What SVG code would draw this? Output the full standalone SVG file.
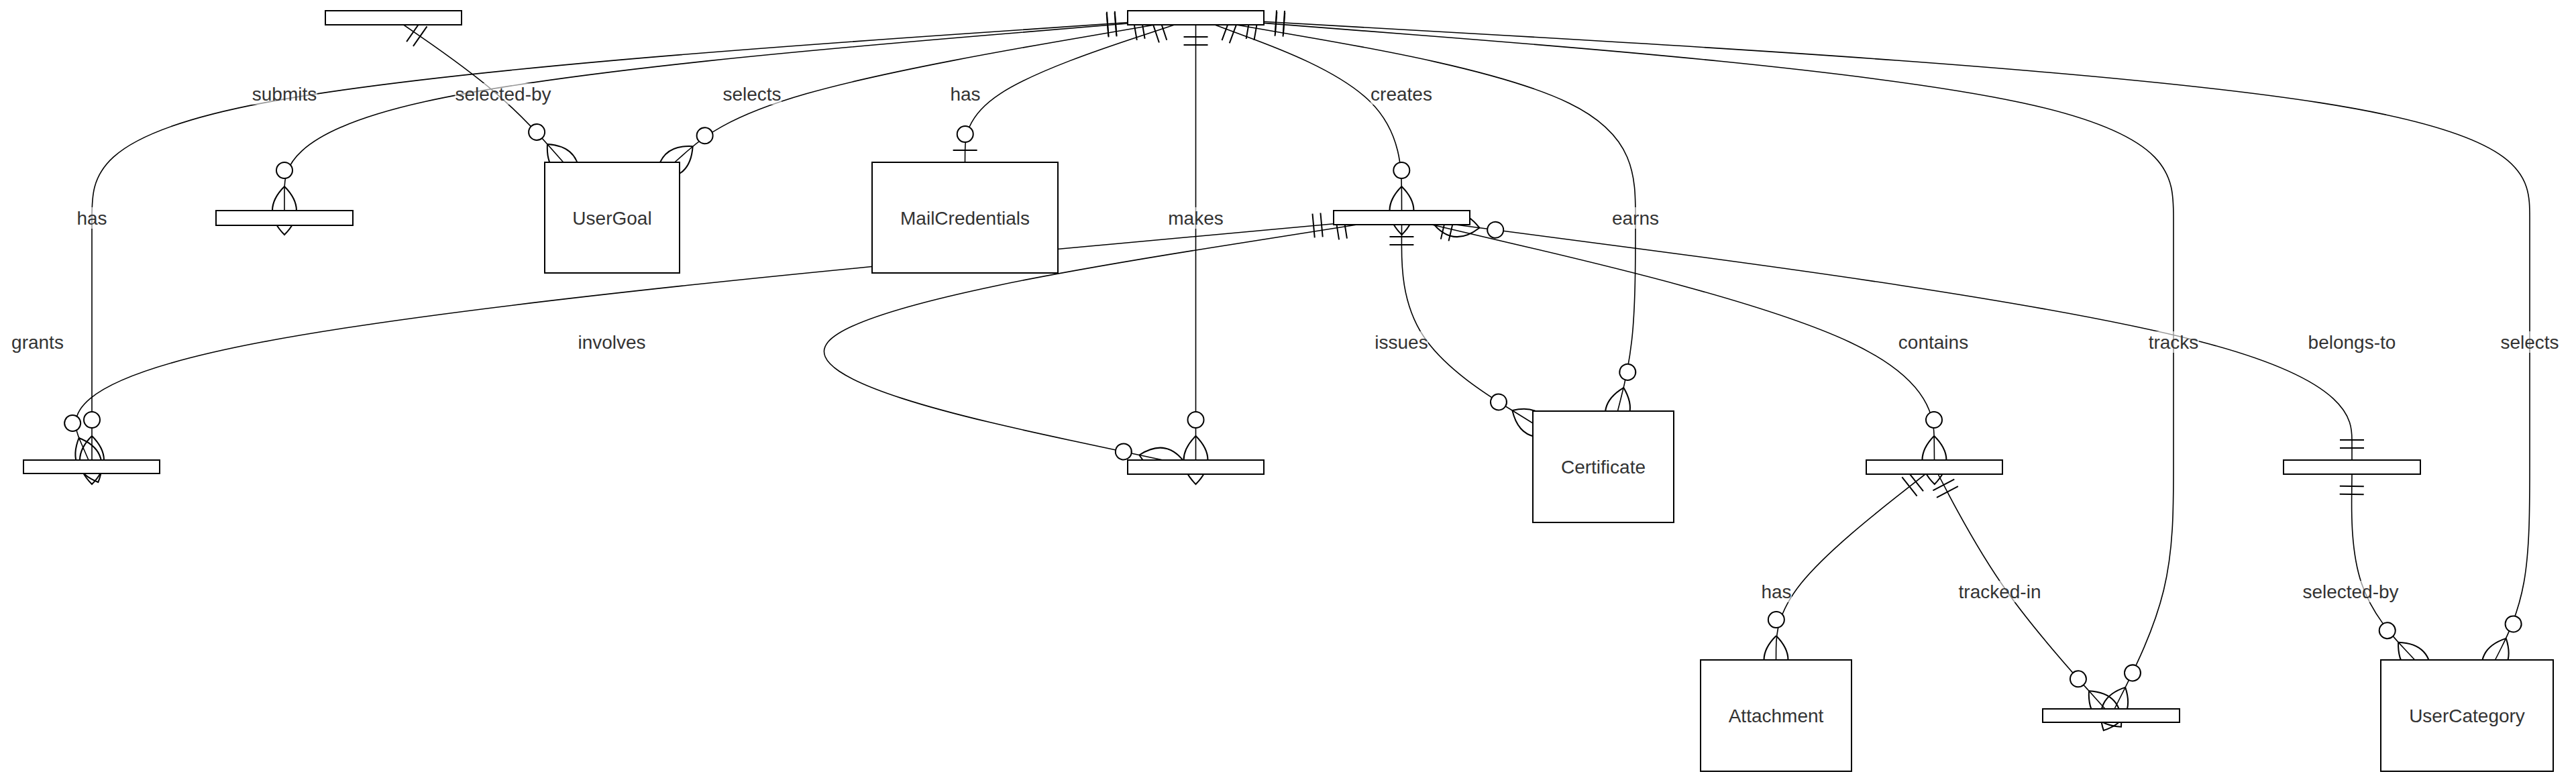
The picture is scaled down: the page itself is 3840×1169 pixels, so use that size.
<svg xmlns="http://www.w3.org/2000/svg" width="3840" height="1169" viewBox="0 0 3840 1169">
<style>
.edge{fill:none;stroke:#000;stroke-width:1.6}
.ent{fill:#fff;stroke:#000;stroke-width:2}
.name,.lbl text{font-family:"Liberation Sans",Arial,Helvetica,sans-serif;font-size:28px;fill:#333;text-anchor:middle;dominant-baseline:central}
.lbl rect{fill:#fff;opacity:0.6}
.mk{fill:none;stroke:#000;stroke-width:2}
.mkc{fill:#fff;stroke:#000;stroke-width:2}
</style>
<defs>
<marker id="oneStart" markerUnits="userSpaceOnUse" refX="0" refY="18" markerWidth="36" markerHeight="36" orient="auto" overflow="visible"><path class="mk" d="M18,0 L18,36 M30,0 L30,36"/></marker>
<marker id="oneEnd" markerUnits="userSpaceOnUse" refX="36" refY="18" markerWidth="36" markerHeight="36" orient="auto" overflow="visible"><path class="mk" d="M6,0 L6,36 M18,0 L18,36"/></marker>
<marker id="zeroOneEnd" markerUnits="userSpaceOnUse" refX="60" refY="18" markerWidth="60" markerHeight="36" orient="auto" overflow="visible"><circle class="mkc" cx="18" cy="18" r="12"/><path class="mk" d="M42,0 L42,36"/></marker>
<marker id="zeroManyStart" markerUnits="userSpaceOnUse" refX="36" refY="36" markerWidth="114" markerHeight="72" orient="auto" overflow="visible"><circle class="mkc" cx="96" cy="36" r="12"/><path class="mk" d="M0,36 Q36,0 72,36 Q36,72 0,36"/></marker>
<marker id="zeroManyEnd" markerUnits="userSpaceOnUse" refX="78" refY="36" markerWidth="114" markerHeight="72" orient="auto" overflow="visible"><circle class="mkc" cx="18" cy="36" r="12"/><path class="mk" d="M42,36 Q78,0 114,36 Q78,72 42,36"/></marker>
</defs>
<rect width="3840" height="1169" fill="#fff"/>
<g id="connectors">
<path class="edge" marker-start="url(#oneStart)" marker-end="url(#zeroManyEnd)" d="M1681,35 L1471.5,52.5 C1262,70 843,105 633.5,151.5 C424,198 424,256 424,285 L424,314"/>
<path class="edge" marker-start="url(#oneStart)" marker-end="url(#zeroManyEnd)" d="M1681,33.5 L1423.7,51.25 C1166.3,69 651.7,104.5 394.3,153.1 C137,201.7 137,263.3 137,325 C137,386.7 137,448.3 137,508.5 C137,568.7 137,627.3 137,656.7 L137,686"/>
<path class="edge" marker-start="url(#oneStart)" marker-end="url(#zeroManyEnd)" d="M1721.3,37 L1621.25,54.2 C1521.2,71.3 1321.1,105.7 1201.8,139.8 C1082.6,174 1044.1,208 1024.9,225 L1005.7,242"/>
<path class="edge" marker-start="url(#oneStart)" marker-end="url(#zeroOneEnd)" d="M1750.7,37 L1698.75,54.2 C1646.8,71.3 1542.9,105.7 1490.9,139.8 C1438.8,174 1438.7,208 1438.6,225 L1438.5,242"/>
<path class="edge" marker-start="url(#oneStart)" marker-end="url(#zeroManyEnd)" d="M601.6,37 L626.3,54.2 C651.1,71.3 700.5,105.7 740.2,139.8 C779.9,174 809.9,208 824.8,225 L839.8,242"/>
<path class="edge" marker-start="url(#oneStart)" marker-end="url(#zeroManyEnd)" d="M1782.5,37 L1782.5,686"/>
<path class="edge" marker-start="url(#oneStart)" marker-end="url(#zeroManyEnd)" d="M1810.9,37 L1857.25,54.2 C1903.6,71.3 1996.3,105.7 2042.7,151.8 C2089.2,198 2089.3,256 2089.4,285 L2089.5,314"/>
<path class="edge" marker-start="url(#oneStart)" marker-end="url(#zeroManyEnd)" d="M1843,37 L1942.2,54.2 C2041.3,71.3 2239.7,105.7 2338.8,153.7 C2438,201.7 2438,263.3 2438,325 C2438,386.7 2438,448.3 2433.6,496.3 C2429.1,544.3 2420.3,578.7 2415.8,595.8 L2411.4,613"/>
<path class="edge" marker-start="url(#oneStart)" marker-end="url(#zeroManyEnd)" d="M1884,34.4 L2110,52 C2336,69.6 2788,104.8 3014,153.2 C3240,201.7 3240,263.3 3240,325 C3240,386.7 3240,448.3 3240,510.2 C3240,572 3240,634 3240,696 C3240,758 3240,820 3225.3,880.2 C3210.7,940.3 3181.3,998.7 3166.7,1027.8 L3152,1057"/>
<path class="edge" marker-start="url(#oneStart)" marker-end="url(#zeroManyEnd)" d="M1884,32.3 L2198.5,50.25 C2513,68.2 3142,104.1 3456.5,152.9 C3771,201.7 3771,263.3 3771,325 C3771,386.7 3771,448.3 3771,510.2 C3771,572 3771,634 3771,696 C3771,758 3771,820 3762.4,868 C3753.8,916 3736.7,950 3728.1,967 L3719.5,984"/>
<path class="edge" marker-start="url(#oneStart)" marker-end="url(#zeroManyEnd)" d="M1988,333.8 L1666,363.2 C1344,392.5 700,451.3 390.7,510 C81.3,568.7 106.7,627.3 119.3,656.7 L132,686"/>
<path class="edge" marker-start="url(#oneStart)" marker-end="url(#zeroManyEnd)" d="M2022.9,335 L1837.75,364.2 C1652.6,393.3 1282.3,451.7 1234.1,510.2 C1185.8,568.7 1459.7,627.3 1596.6,656.7 L1733.5,686"/>
<path class="edge" marker-start="url(#oneStart)" marker-end="url(#zeroManyEnd)" d="M2089.5,335 L2089.4,364.2 C2089.3,393.3 2089.2,451.7 2121.75,501 C2154.3,550.3 2219.7,590.7 2252.3,610.8 L2285,631"/>
<path class="edge" marker-start="url(#oneStart)" marker-end="url(#zeroManyEnd)" d="M2134.4,335 L2259,364.2 C2383.6,393.3 2632.8,451.7 2757.7,510.2 C2882.5,568.7 2883,627.3 2883.25,656.7 L2883.5,686"/>
<path class="edge" marker-start="url(#zeroManyStart)" marker-end="url(#oneEnd)" d="M2169.7,335 L2392.4,364.2 C2615.1,393.3 3060.6,451.7 3283.3,510.2 C3506,568.7 3506,627.3 3506,656.7 L3506,686"/>
<path class="edge" marker-start="url(#oneStart)" marker-end="url(#zeroManyEnd)" d="M2870,707 L2833,736.2 C2796,765.3 2722,823.7 2684.9,869.8 C2647.8,916 2647.7,950 2647.6,967 L2647.5,984"/>
<path class="edge" marker-start="url(#oneStart)" marker-end="url(#zeroManyEnd)" d="M2889,707 L2904.3,736.2 C2919.7,765.3 2950.3,823.7 2991.8,882 C3033.3,940.3 3085.7,998.7 3111.8,1027.8 L3138,1057"/>
<path class="edge" marker-start="url(#oneStart)" marker-end="url(#zeroManyEnd)" d="M3506,707 L3505.7,736.2 C3505.3,765.3 3504.7,823.7 3520.3,869.8 C3535.9,916 3567.8,950 3583.8,967 L3599.7,984"/>
</g>
<g id="edge-labels">
<g class="lbl"><rect x="375" y="124" width="98" height="32"/><text x="424" y="140">submits</text></g>
<g class="lbl"><rect x="678" y="124" width="144" height="32"/><text x="750" y="140">selected-by</text></g>
<g class="lbl"><rect x="1077" y="124" width="88" height="32"/><text x="1121" y="140">selects</text></g>
<g class="lbl"><rect x="1416" y="124" width="46" height="32"/><text x="1439" y="140">has</text></g>
<g class="lbl"><rect x="2043" y="124" width="92" height="32"/><text x="2089" y="140">creates</text></g>
<g class="lbl"><rect x="114" y="309" width="46" height="32"/><text x="137" y="325">has</text></g>
<g class="lbl"><rect x="1741" y="309" width="83" height="32"/><text x="1782.5" y="325">makes</text></g>
<g class="lbl"><rect x="2403" y="309" width="70" height="32"/><text x="2438" y="325">earns</text></g>
<g class="lbl"><rect x="17" y="494" width="78" height="32"/><text x="56" y="510">grants</text></g>
<g class="lbl"><rect x="861" y="494" width="102" height="32"/><text x="912" y="510">involves</text></g>
<g class="lbl"><rect x="2049" y="494" width="80" height="32"/><text x="2089" y="510">issues</text></g>
<g class="lbl"><rect x="2830" y="494" width="104" height="32"/><text x="2882" y="510">contains</text></g>
<g class="lbl"><rect x="3202" y="494" width="76" height="32"/><text x="3240" y="510">tracks</text></g>
<g class="lbl"><rect x="3440" y="494" width="132" height="32"/><text x="3506" y="510">belongs-to</text></g>
<g class="lbl"><rect x="3727" y="494" width="88" height="32"/><text x="3771" y="510">selects</text></g>
<g class="lbl"><rect x="2625" y="866" width="46" height="32"/><text x="2648" y="882">has</text></g>
<g class="lbl"><rect x="2919" y="866" width="124" height="32"/><text x="2981" y="882">tracked-in</text></g>
<g class="lbl"><rect x="3432" y="866" width="144" height="32"/><text x="3504" y="882">selected-by</text></g>
</g>
<g id="nodes">
<g id="entity-top"><rect class="ent" x="1681" y="16" width="203" height="21"/></g>
<g id="entity-top-left"><rect class="ent" x="485" y="16" width="203" height="21"/></g>
<g id="entity-submits"><rect class="ent" x="322" y="314" width="204" height="22"/></g>
<g id="UserGoal"><rect class="ent" x="812" y="242" width="201" height="165"/><text class="name" x="912.5" y="325">UserGoal</text></g>
<g id="MailCredentials"><rect class="ent" x="1300" y="242" width="277" height="165"/><text class="name" x="1438.5" y="325">MailCredentials</text></g>
<g id="entity-mid"><rect class="ent" x="1988" y="314" width="203" height="21"/></g>
<g id="entity-left-bottom"><rect class="ent" x="35" y="686" width="203" height="20"/></g>
<g id="entity-makes"><rect class="ent" x="1681" y="686" width="203" height="21"/></g>
<g id="Certificate"><rect class="ent" x="2285" y="613" width="210" height="166"/><text class="name" x="2390" y="696">Certificate</text></g>
<g id="entity-contains"><rect class="ent" x="2782" y="686" width="203" height="21"/></g>
<g id="entity-belongs"><rect class="ent" x="3404" y="686" width="204" height="21"/></g>
<g id="Attachment"><rect class="ent" x="2535" y="984" width="225" height="166"/><text class="name" x="2647.5" y="1067">Attachment</text></g>
<g id="entity-tracked"><rect class="ent" x="3045" y="1057" width="204" height="20"/></g>
<g id="UserCategory"><rect class="ent" x="3549" y="984" width="257" height="166"/><text class="name" x="3677.5" y="1067">UserCategory</text></g>
</g>
</svg>
